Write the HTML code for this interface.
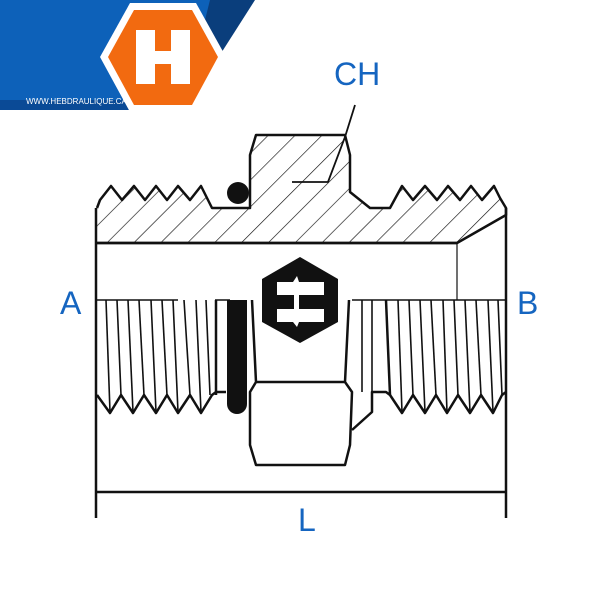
<!DOCTYPE html>
<html><head><style>html,body{margin:0;padding:0;background:#fff}svg{display:block}</style></head>
<body>
<svg width="600" height="600" viewBox="0 0 600 600" xmlns="http://www.w3.org/2000/svg">
<defs>
<pattern id="h" patternUnits="userSpaceOnUse" width="19" height="19" patternTransform="rotate(45)">
<line x1="0" y1="0" x2="0" y2="19" stroke="#111" stroke-width="1.3"/>
</pattern>
<clipPath id="hc"><path d="M97,208 L100,200 L111,186 L122,200 L134,186 L145,200 L156,186 L167,200 L178,186 L190,200 L201,186 L212,208 L250,208 L250,155 L256,135 L345,135 L350,155 L350,192 L370,208 L390,208 L402,186 L413,200 L425,186 L437,200 L448,186 L460,200 L471,186 L482,200 L494,186 L500,198 L506,208 L506,215 L457,243 L97,243 Z"/></clipPath>
</defs>
<!-- banner -->
<polygon points="0,0 215,0 180,110 0,110" fill="#0d61b9"/>
<polygon points="210,0 255,0 218,58 200,40" fill="#0a3e7c"/>
<rect x="0" y="100" width="145" height="10" fill="#0a4a96"/>
<polygon points="130,3 196,3 226,57 196,112 130,112 100,57" fill="#fff"/>
<polygon points="134,10 192,10 218,57 192,105 134,105 108,57" fill="#f26a10"/>
<path d="M136,30 h19 v21 h16 v-21 h19 v54 h-19 v-20 h-16 v20 h-19 z" fill="#fff"/>
<text x="26" y="104" font-family="Liberation Sans, sans-serif" font-size="8" fill="#fff">WWW.HEBDRAULIQUE.CA</text>
<!-- hatched upper body -->
<rect x="90" y="130" width="420" height="120" fill="url(#h)" clip-path="url(#hc)"/>
<path d="M97,208 L100,200 L111,186 L122,200 L134,186 L145,200 L156,186 L167,200 L178,186 L190,200 L201,186 L212,208 L250,208 L250,155 L256,135 L345,135 L350,155 L350,192 L370,208 L390,208 L402,186 L413,200 L425,186 L437,200 L448,186 L460,200 L471,186 L482,200 L494,186 L500,198 L506,208 L506,215 L457,243 L97,243" fill="none" stroke="#111" stroke-width="2.5" stroke-linejoin="round"/>
<line x1="97" y1="243" x2="457" y2="243" stroke="#111" stroke-width="2.5"/>
<line x1="457" y1="243" x2="457" y2="300" stroke="#111" stroke-width="1.2"/>
<circle cx="238" cy="193" r="11" fill="#111"/>
<!-- leader -->
<polyline points="355,105 345,137 328,182 292,182" fill="none" stroke="#111" stroke-width="1.8"/>
<!-- outer lines -->
<line x1="96" y1="208" x2="96" y2="518" stroke="#111" stroke-width="2.5"/>
<line x1="506" y1="208" x2="506" y2="518" stroke="#111" stroke-width="2.5"/>
<line x1="96" y1="492" x2="506" y2="492" stroke="#111" stroke-width="2.5"/>
<!-- lower threads -->
<line x1="97" y1="300" x2="178" y2="300" stroke="#111" stroke-width="1.5"/>
<line x1="215" y1="300" x2="230" y2="300" stroke="#111" stroke-width="1.5"/>
<line x1="352" y1="300" x2="506" y2="300" stroke="#111" stroke-width="1.5"/>
<g stroke="#111" stroke-width="1.6">
<line x1="106" y1="300" x2="110" y2="412"/><line x1="117" y1="300" x2="121" y2="395"/>
<line x1="128" y1="300" x2="133" y2="412"/><line x1="139" y1="300" x2="144" y2="395"/>
<line x1="151" y1="300" x2="156" y2="412"/><line x1="162" y1="300" x2="167" y2="395"/>
<line x1="173" y1="300" x2="178" y2="412"/><line x1="184" y1="300" x2="190" y2="395"/>
<line x1="196" y1="300" x2="201" y2="412"/><line x1="206" y1="300" x2="210" y2="395"/>
<line x1="216" y1="300" x2="216" y2="395" stroke-width="2.5"/>
<line x1="362" y1="300" x2="362" y2="392"/><line x1="372" y1="300" x2="372" y2="392"/>
<line x1="386" y1="300" x2="390" y2="395" stroke-width="2.5"/>
<line x1="398" y1="300" x2="402" y2="412"/><line x1="409" y1="300" x2="413" y2="395"/>
<line x1="420" y1="300" x2="425" y2="412"/><line x1="431" y1="300" x2="436" y2="395"/>
<line x1="443" y1="300" x2="447" y2="412"/><line x1="454" y1="300" x2="458" y2="395"/>
<line x1="465" y1="300" x2="470" y2="412"/><line x1="476" y1="300" x2="481" y2="395"/>
<line x1="488" y1="300" x2="493" y2="412"/><line x1="498" y1="300" x2="502" y2="395"/>
</g>
<polyline points="97,395 110,413 121,395 133,413 144,395 156,413 167,395 178,413 190,395 201,413 212,395 216,392 226,392" fill="none" stroke="#111" stroke-width="2.5" stroke-linejoin="round"/>
<polyline points="352,430 372,412 372,392 386,392 390,395 402,413 413,395 425,413 436,395 447,413 458,395 470,413 481,395 493,413 502,395 506,392" fill="none" stroke="#111" stroke-width="2.5" stroke-linejoin="round"/>
<!-- o-ring -->
<path d="M227,300 h20 v104 a10,10 0 0 1 -20,0 z" fill="#111"/>
<!-- lower hex -->
<path d="M252,300 L256,382 L345,382 L349,300 M256,382 L250,392 L250,445 L256,465 L345,465 L350,445 L352,392 L345,382" fill="none" stroke="#111" stroke-width="2.5" stroke-linejoin="round"/>
<!-- logo -->
<polygon points="300,257 338,279 338,322 300,343 262,322 262,279" fill="#111"/>
<g fill="#fff">
<rect x="277" y="282" width="47" height="13"/>
<rect x="277" y="309" width="47" height="13"/>
<rect x="294" y="295" width="5" height="14"/>
<polygon points="297,276 299,282 293,282"/>
<polygon points="297,327 299,322 293,322"/>
</g>
<!-- labels -->
<g font-family="Liberation Sans, sans-serif" font-size="32" fill="#1565c0">
<text x="334" y="85">CH</text>
<text x="60" y="314">A</text>
<text x="517" y="314">B</text>
<text x="298" y="531">L</text>
</g>
</svg>
</body></html>
